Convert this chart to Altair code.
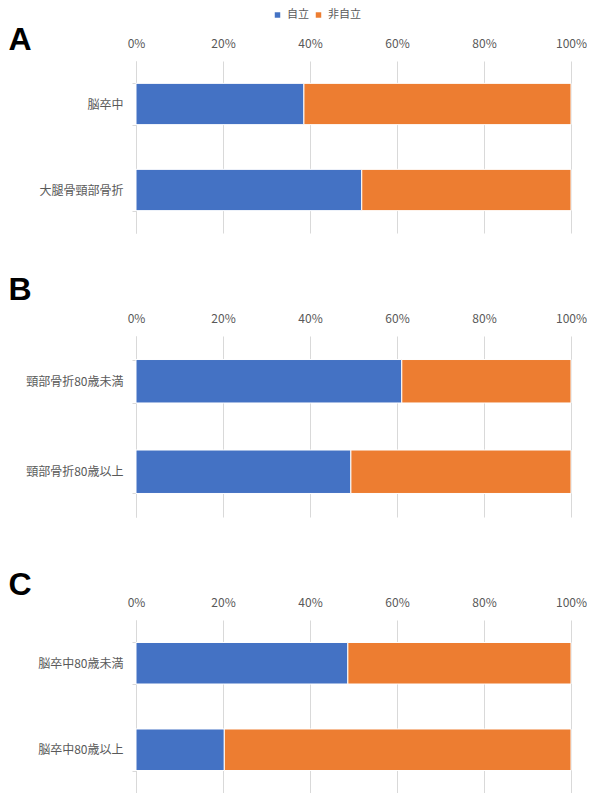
import altair as alt
import pandas as pd

# ---- data ----
status = ["自立", "非自立"]
colors = ["#4472C4", "#ED7D31"]

letters = ["A", "B", "C"]

cats_A = ["脳卒中", "大腿骨頸部骨折"]
indep_A = [38.6, 51.9]
nonindep_A = [61.4, 48.1]

cats_B = ["頸部骨折80歳未満", "頸部骨折80歳以上"]
indep_B = [61.1, 49.4]
nonindep_B = [38.9, 50.6]

cats_C = ["脳卒中80歳未満", "脳卒中80歳以上"]
indep_C = [48.7, 20.3]
nonindep_C = [51.3, 79.7]

tick_values = [0, 0.2, 0.4, 0.6, 0.8, 1.0]

JP = "Noto Sans CJK JP"
GRAY = "#595959"
LIGHT = "#d9d9d9"


def make_df(cats, indep, nonindep):
    rows = []
    for c, a, b in zip(cats, indep, nonindep):
        rows.append({"category": c, "status": status[0], "value": a, "idx": 0})
        rows.append({"category": c, "status": status[1], "value": b, "idx": 1})
    return pd.DataFrame(rows)


legend = alt.Legend(
    title=None,
    orient="none",
    direction="horizontal",
    legendX=136,
    legendY=-51.5,
    symbolType="square",
    symbolSize=30,
    symbolStrokeWidth=0,
    labelFont=JP,
    labelFontSize=11,
    labelColor=GRAY,
    labelOffset=4,
    columnPadding=4,
    gridAlign="none",
    padding=0,
)


def panel(letter, cats, indep, nonindep, height, letter_y):
    df = make_df(cats, indep, nonindep)
    bars = alt.Chart(df).mark_bar(stroke="white", strokeWidth=1).encode(
        x=alt.X(
            "value:Q",
            stack="normalize",
            scale=alt.Scale(domain=[0, 1], nice=False),
            axis=alt.Axis(
                orient="top",
                format=".0%",
                values=tick_values,
                title=None,
                domain=False,
                ticks=False,
                tickSize=0,
                labelPadding=11,
                labelFlush=False,
                grid=True,
                gridColor=LIGHT,
                gridWidth=1,
                labelFont=JP,
                labelFontSize=12,
                labelColor=GRAY,
            ),
        ),
        y=alt.Y(
            "category:N",
            sort=cats,
            scale=alt.Scale(paddingInner=0.52, paddingOuter=0.26),
            axis=alt.Axis(
                title=None,
                grid=False,
                domainColor=LIGHT,
                domainWidth=1,
                tickColor=LIGHT,
                tickSize=4,
                tickBand="extent",
                labelPadding=9,
                labelFont=JP,
                labelFontSize=12,
                labelColor=GRAY,
            ),
        ),
        color=alt.Color(
            "status:N",
            scale=alt.Scale(domain=status, range=colors),
            legend=legend,
        ),
        order=alt.Order("idx:Q"),
    )
    txt = alt.Chart(pd.DataFrame({"label": [letter]})).mark_text(
        align="left",
        baseline="alphabetic",
        fontSize=32,
        fontWeight="bold",
        font="Liberation Sans",
        color="black",
    ).encode(
        text="label:N",
        x=alt.value(-127.5),
        y=alt.value(letter_y),
    )
    return alt.layer(bars, txt).properties(width=435, height=height)


pA = panel(letters[0], cats_A, indep_A, nonindep_A, 172, -10.7)
pB = panel(letters[1], cats_B, indep_B, nonindep_B, 181, -36.5)
pC = panel(letters[2], cats_C, indep_C, nonindep_C, 173, -25.5)

chart = (
    alt.vconcat(pA, pB, pC, spacing=103, bounds="flush")
    .resolve_scale(color="shared")
    .resolve_legend(color="shared")
    .properties(padding={"left": 8, "top": 9, "right": 0, "bottom": 0})
    .configure_view(strokeWidth=0)
)

chart.save("out.html", embed_options={"renderer": "svg", "actions": False})
